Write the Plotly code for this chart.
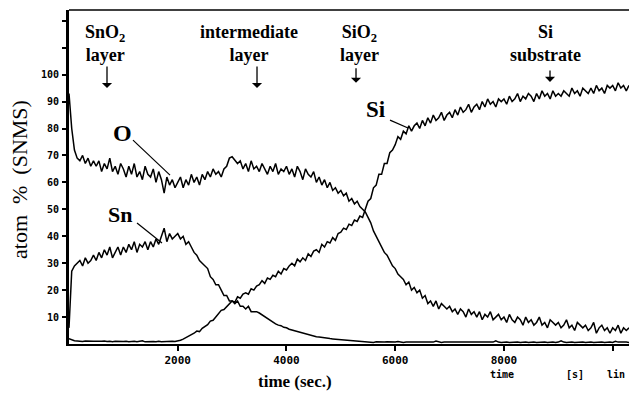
import plotly.graph_objects as go

step_s = 50

oxygen = [
    93, 80, 72, 69, 68, 70, 67, 69, 66, 68,
    66, 68, 64, 67, 65, 69, 64, 66, 63, 67,
    65, 62, 66, 63, 67, 62, 64, 61, 66, 63,
    62, 65, 60, 64, 61, 56, 62, 59, 61, 58,
    60, 62, 58, 61, 59, 63, 60, 62, 59, 63,
    61, 64, 62, 65, 63, 64, 62, 65, 66, 69,
    69.5, 68, 67, 68, 65, 67, 64, 68, 65, 66,
    64, 67, 65, 63, 66, 64, 67, 63, 65, 64,
    66, 63, 65, 62, 66, 64, 61, 65, 63, 62,
    64, 60, 62, 59, 61, 58, 60, 57, 58, 56,
    57, 55, 56, 53, 54, 52, 53, 51, 50, 49,
    47, 45, 42, 40, 38, 36, 34, 33, 31, 29,
    28, 26, 25, 24, 22, 23, 20, 21, 19, 20,
    17, 18, 15, 16, 14, 16, 13, 15, 14, 13,
    14, 12, 13, 11, 13, 12, 10, 13, 11, 12,
    10, 12, 9, 11, 10, 12, 9, 10, 11, 9,
    10, 8, 11, 9, 8, 10, 9, 7, 10, 8,
    9, 7, 8, 10, 7, 8, 6, 9, 8, 7,
    8, 6, 7, 9, 6, 7, 5, 8, 7, 6,
    7, 5, 6, 8, 4, 6, 7, 5, 6, 4,
    6, 5, 7, 4, 6, 5, 6,
]

silicon = [
    2, 1.5, 1.2, 1.1, 1, 0.9, 1.1, 1, 0.9, 1,
    1, 0.9, 1, 1.1, 0.9, 1, 0.8, 1, 0.9, 1,
    0.9, 1, 0.8, 0.9, 1, 0.8, 0.9, 1.2, 0.8, 0.9,
    0.8, 0.9, 0.8, 1, 0.8, 0.9, 0.8, 0.9, 1, 0.9,
    1.1, 1.4, 1.8, 2.3, 2.8, 3.5, 4.0, 4.8, 4.6, 5.8,
    6.5, 7.2, 8.5, 8.8, 10, 11.2, 12.5, 12.8, 14, 15,
    16, 15.5, 17.5, 17, 18.5, 19, 18.5, 20.5, 20, 21.5,
    22, 23.5, 22.5, 24.5, 24, 25.5, 25, 27, 26, 28,
    27.5, 29, 30, 29, 31.5, 30.5, 32, 31, 33.5, 32.5,
    34.5, 35, 34, 37, 36, 38, 37.5, 39.5, 38.5, 41,
    41.5, 43, 42.5, 44.5, 44, 46, 45.5, 47.5, 47, 50,
    53, 54, 58, 59, 63, 63, 67, 67, 71, 72,
    74, 77, 76, 79, 78, 81, 79, 81, 82, 80,
    83, 81, 84, 82, 85, 83, 84, 86, 83, 85,
    86, 84, 87, 85, 88, 86, 87, 89, 86, 88,
    89, 87, 90, 88, 91, 89, 90, 88, 91, 90,
    91, 89, 92, 90, 91, 93, 90, 92, 91, 93,
    92, 90, 93, 91, 94, 92, 93, 91, 94, 92,
    93, 92, 94, 93, 92, 95, 93, 94, 92, 95,
    94, 93, 95, 93, 96, 94, 95, 93, 96, 95,
    96, 94, 97, 95, 96, 94, 96,
]

tin = [
    6, 27, 29, 30, 31, 29, 32, 30, 31, 33,
    31, 34, 32, 35, 33, 36, 32, 34, 36, 33,
    36, 34, 37, 35, 38, 34, 37, 36, 38, 35,
    38, 36, 39, 37, 40, 43, 38, 41, 39, 40,
    41, 39, 40, 37, 38, 36, 34, 33, 31, 30,
    29, 28, 25, 24, 22, 22, 20, 18, 18, 16,
    16, 15, 16, 14, 14, 13, 14, 12, 12, 12,
    11.5, 10.8, 10, 9.5, 8.6, 8.2, 7.5, 7, 6.8, 6.2,
    6, 5.5, 5.2, 4.8, 4.5, 4.2, 3.9, 3.6, 3.3, 3.1,
    2.9, 2.7, 2.6, 2.4, 2.3, 2.1, 2.0, 1.9, 1.8, 1.7,
    1.6, 1.5, 1.4, 1.3, 1.2, 1.1, 1.0, 0.9, 0.8, 0.8,
    0.7, 0.7, 0.6, 0.8, 0.7, 0.6, 0.7, 0.8, 0.7, 0.6,
    0.7, 0.9, 0.7, 0.6, 0.7, 0.7, 0.6, 0.7, 0.8, 0.7,
    0.6, 0.7, 0.7, 0.6, 0.7, 1.1, 0.7, 0.6, 0.7, 0.7,
    0.6, 0.7, 0.8, 0.7, 0.6, 0.7, 0.7, 0.6, 0.7, 0.7,
    0.6, 0.7, 0.7, 0.8, 0.7, 0.6, 0.7, 1.2, 0.7, 0.6,
    0.7, 0.7, 0.6, 0.7, 0.8, 0.7, 0.6, 0.7, 0.7, 0.6,
    0.7, 0.7, 0.6, 0.7, 0.8, 0.7, 0.6, 0.7, 0.7, 0.6,
    0.7, 1.2, 0.7, 0.6, 0.7, 0.7, 0.6, 0.7, 0.8, 0.7,
    0.6, 0.7, 0.7, 0.6, 0.7, 0.8, 0.7, 0.6, 0.7, 0.7,
    0.6, 1.0, 0.7, 0.6, 0.7, 0.7, 0.6,
]

x_tick_vals = [2000, 4000, 6000, 8000, 10000]
x_tick_text = ["2000", "4000", "6000", "8000", ""]
y_tick_vals = [10, 20, 30, 40, 50, 60, 70, 80, 90, 100, 110, 120]
y_tick_text = ["10", "20", "30", "40", "50", "60", "70", "80", "90", "100", "", ""]

layers = [
    ("SnO<sub>2</sub><br>layer", 662, 699, 95, -23),
    ("intermediate<br>layer", 3311, 3458, 95, -23),
    ("SiO<sub>2</sub><br>layer", 5352, 5279, 97, -16),
    ("Si<br>substrate", 8755, 8847, 97.3, -13),
]

# element labels: text, label x, label y, font size, pointer start/end
elements = [
    ("O", 975, 78.3, 24, (1177, 75.7), (1858, 62.7)),
    ("Sn", 938, 48.0, 22, (1251, 44.9), (1710, 37.5)),
    ("Si", 5646, 87.2, 23, (5904, 83.1), (6235, 80.2)),
]

def times(n):
    return [i * step_s for i in range(n)]

fig = go.Figure()
for vals in (tin, silicon, oxygen):
    fig.add_trace(go.Scatter(x=times(len(vals)), y=vals, mode="lines",
                             line=dict(color="black", width=1.5),
                             showlegend=False, hoverinfo="skip"))

serif = "Liberation Serif"
mono = "DejaVu Sans Mono"

anns = []
for text, tx, ax_, tipy, ay in layers:
    anns.append(dict(x=tx, y=111.7, xref="x", yref="y", text=text, showarrow=False,
                     xanchor="center", yanchor="middle",
                     font=dict(family=serif, size=18, color="black", weight="bold"),
                     align="center"))
    anns.append(dict(x=ax_, y=tipy, xref="x", yref="y", text="", showarrow=True,
                     ax=0, ay=ay, arrowhead=1, arrowsize=1.3, arrowwidth=1.3,
                     arrowcolor="black"))
for text, lx, ly, size, p0, p1 in elements:
    anns.append(dict(x=lx, y=ly, xref="x", yref="y", text=text, showarrow=False,
                     xanchor="center", yanchor="middle",
                     font=dict(family=serif, size=size, color="black", weight="bold")))

anns.append(dict(x=0, y=(344 - 180) / 334, xref="paper", yref="paper", xshift=-50,
                 xanchor="center", yanchor="middle",
                 text="atom\u00a0\u00a0%\u00a0\u00a0(SNMS)",
                 textangle=-90, showarrow=False,
                 font=dict(family=serif, size=22, color="black")))
anns.append(dict(x=(295 - 69) / 560, y=(344 - 382) / 334, xref="paper", yref="paper",
                 xanchor="center", yanchor="middle",
                 text="time (sec.)", showarrow=False,
                 font=dict(family=serif, size=17, color="black", weight="bold")))
for txt, px in (("time", 502), ("[s]", 575), ("lin", 616)):
    anns.append(dict(x=(px - 69) / 560, y=(344 - 375) / 334, xref="paper", yref="paper",
                     xanchor="center", yanchor="middle",
                     text=txt, showarrow=False,
                     font=dict(family=mono, size=10, color="black", weight="bold")))

shapes = [dict(type="line", xref="paper", yref="paper", x0=0, x1=1, y0=1, y1=1,
               line=dict(color="black", width=1.5))]
for text, lx, ly, size, p0, p1 in elements:
    shapes.append(dict(type="line", xref="x", yref="y", x0=p0[0], y0=p0[1], x1=p1[0], y1=p1[1],
                       line=dict(color="black", width=1.2)))

fig.update_layout(
    width=629, height=400,
    margin=dict(l=69, r=0, t=10, b=56),
    paper_bgcolor="white", plot_bgcolor="white",
    annotations=anns, shapes=shapes,
    xaxis=dict(range=[0, 10300], tickvals=x_tick_vals, ticktext=x_tick_text,
               showgrid=False, zeroline=False, showline=True, linecolor="black", linewidth=2,
               ticks="outside", ticklen=5, tickwidth=1.5, tickcolor="black",
               tickfont=dict(family=mono, size=11, color="black", weight="bold")),
    yaxis=dict(range=[0, 124], tickvals=y_tick_vals, ticktext=y_tick_text,
               showgrid=False, zeroline=False, showline=True, linecolor="black", linewidth=3,
               ticks="outside", ticklen=4, tickwidth=1.5, tickcolor="black", ticklabelstandoff=1,
               tickfont=dict(family=mono, size=10, color="black", weight="bold")),
)

fig.write_html("out.html")
